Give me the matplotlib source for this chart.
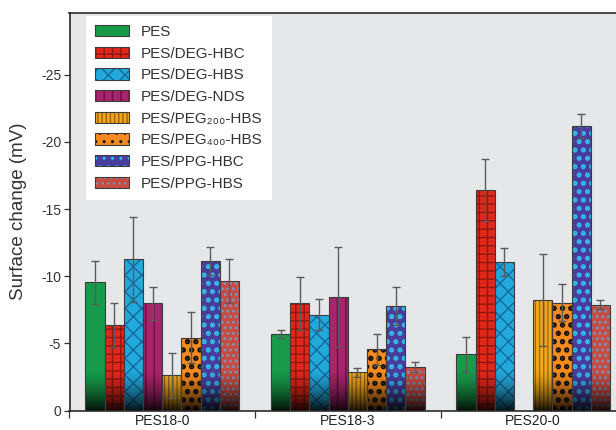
import numpy as np
import matplotlib
matplotlib.use("Agg")
import matplotlib.pyplot as plt
from matplotlib.patches import Patch

plt.rcParams["font.family"] = ["Liberation Sans", "DejaVu Sans"]
plt.rcParams["hatch.linewidth"] = 1.0

# ==========================
# data: surface charge magnitude (mV) per membrane group
# ==========================
groups = ["PES18-0", "PES18-3", "PES20-0"]
series = ["PES", "PES/DEG-HBC", "PES/DEG-HBS", "PES/DEG-NDS",
          "PES/PEG₂₀₀-HBS", "PES/PEG₄₀₀-HBS", "PES/PPG-HBC", "PES/PPG-HBS"]

pes = [9.54, 5.70, 4.19]
deg_hbc = [6.39, 7.98, 16.4]
deg_hbs = [11.25, 7.13, 11.05]
deg_nds = [7.98, 8.47, np.nan]
peg200_hbs = [2.63, 2.85, 8.23]
peg400_hbs = [5.42, 4.56, 8.03]
ppg_hbc = [11.12, 7.78, 21.2]
ppg_hbs = [9.64, 3.25, 7.88]

pes_err = [1.6, 0.27, 1.3]
deg_hbc_err = [1.65, 2.0, 2.3]
deg_hbs_err = [3.14, 1.15, 1.04]
deg_nds_err = [1.22, 3.7, np.nan]
peg200_hbs_err = [1.65, 0.35, 3.4]
peg400_hbs_err = [1.9, 1.14, 1.36]
ppg_hbc_err = [1.06, 1.4, 0.9]
ppg_hbs_err = [1.65, 0.35, 0.35]

values = [pes, deg_hbc, deg_hbs, deg_nds, peg200_hbs, peg400_hbs, ppg_hbc, ppg_hbs]
errors = [pes_err, deg_hbc_err, deg_hbs_err, deg_nds_err,
          peg200_hbs_err, peg400_hbs_err, ppg_hbc_err, ppg_hbs_err]

y_ticks = [0, 5, 10, 15, 20, 25]
y_tick_labels = ["0", "-5", "-10", "-15", "-20", "-25"]

# fill colour, texture colour, texture, texture line width
faces = ["#179a4a", "#e3261b", "#22a9dc", "#a8246c", "#f2a81c", "#f58a1e", "#4a3c9e", "#c94a40"]
hatch_cols = ["#179a4a", "#8c1a10", "#17689a", "#6a1040", "#9a6410", "#111111", "#33bde8", "#7a94b4"]
hatches = ["", "++", "xx", "||", "||||", "..", "..", "..."]
hatch_lw = [1.0, 1.0, 1.0, 1.0, 0.9, 2.6, 2.4, 1.4]
outline = "#3c3c3c"


def texture_width(patch, lw):
    # per-artist hatch width where supported, else the rc value at creation
    if hasattr(patch, "set_hatch_linewidth"):
        patch.set_hatch_linewidth(lw)


# ==========================
# figure
# ==========================
fig = plt.figure(figsize=(6.16, 4.30), dpi=100)
ax = fig.add_axes([69.5 / 616, 19.3 / 430, 556.5 / 616, 398 / 430])
ax.set_facecolor("#e5e7e9")

x = np.arange(len(groups))
w = 0.1035
band = 3.0  # dark fade at the base of every bar

# black ramp used to darken the foot of each bar
ramp = np.zeros((256, 1, 4))
t = np.linspace(0, 1, 256)
ramp[:, 0, 3] = 0.9 * (1 - t) ** 1.4

handles = []
for i, (vals, errs) in enumerate(zip(values, errors)):
    pos = x + (i - 3.5) * w
    with plt.rc_context({"hatch.linewidth": hatch_lw[i]}):
        bars = ax.bar(pos, vals, w, color=faces[i], edgecolor=hatch_cols[i],
                      hatch=hatches[i], linewidth=0, zorder=2)
        key = Patch(facecolor=faces[i], edgecolor=hatch_cols[i], hatch=hatches[i], linewidth=0)
    for b, v in zip(bars, vals):
        texture_width(b, hatch_lw[i])
        if np.isnan(v):
            continue
        im = ax.imshow(ramp, extent=(b.get_x(), b.get_x() + w, 0, band),
                       origin="lower", aspect="auto", interpolation="bilinear", zorder=2.5)
        im.set_clip_path(b)
    texture_width(key, hatch_lw[i])
    ax.bar(pos, vals, w, fill=False, edgecolor=outline, linewidth=0.8, zorder=3)
    ax.errorbar(pos, vals, yerr=errs, fmt="none", ecolor="#5a5a5a",
                elinewidth=1.0, capsize=3, capthick=1.0, zorder=4)
    handles.append((key, Patch(fill=False, edgecolor=outline, linewidth=0.8)))

ax.set_xlim(-0.5, 2.5)
ax.set_ylim(0, 29.6)

ax.set_yticks(y_ticks)
ax.set_yticklabels(y_tick_labels)
ax.set_xticks(x)
ax.set_xticklabels(groups)
ax.set_xticks(np.arange(-0.5, 3, 1), minor=True)
ax.tick_params(axis="x", which="major", length=0, pad=2.5, labelsize=10, labelcolor="#222222")
ax.tick_params(axis="x", which="minor", length=5, width=0.9, color="#333333")
ax.tick_params(axis="y", length=4, width=0.9, color="#333333", labelsize=10,
               labelcolor="#333333", pad=2)

for side in ["left", "top", "bottom"]:
    ax.spines[side].set_color("#2a2a2a")
    ax.spines[side].set_linewidth(1.2)
ax.spines["right"].set_visible(False)

ax.set_ylabel("Surface change (mV)", fontsize=13.5, color="#333333", labelpad=10)

leg = ax.legend(handles, series, loc="upper left", bbox_to_anchor=(0.03, 0.992),
                borderaxespad=0, fontsize=11, frameon=True, fancybox=False,
                handlelength=2.2, handleheight=0.75, handletextpad=0.8,
                labelspacing=0.5, borderpad=0.6)
leg.get_frame().set_facecolor("white")
leg.get_frame().set_edgecolor("none")
leg.get_frame().set_alpha(1)
for txt in leg.get_texts():
    txt.set_color("#333333")

fig.savefig("out.png", dpi=100)
